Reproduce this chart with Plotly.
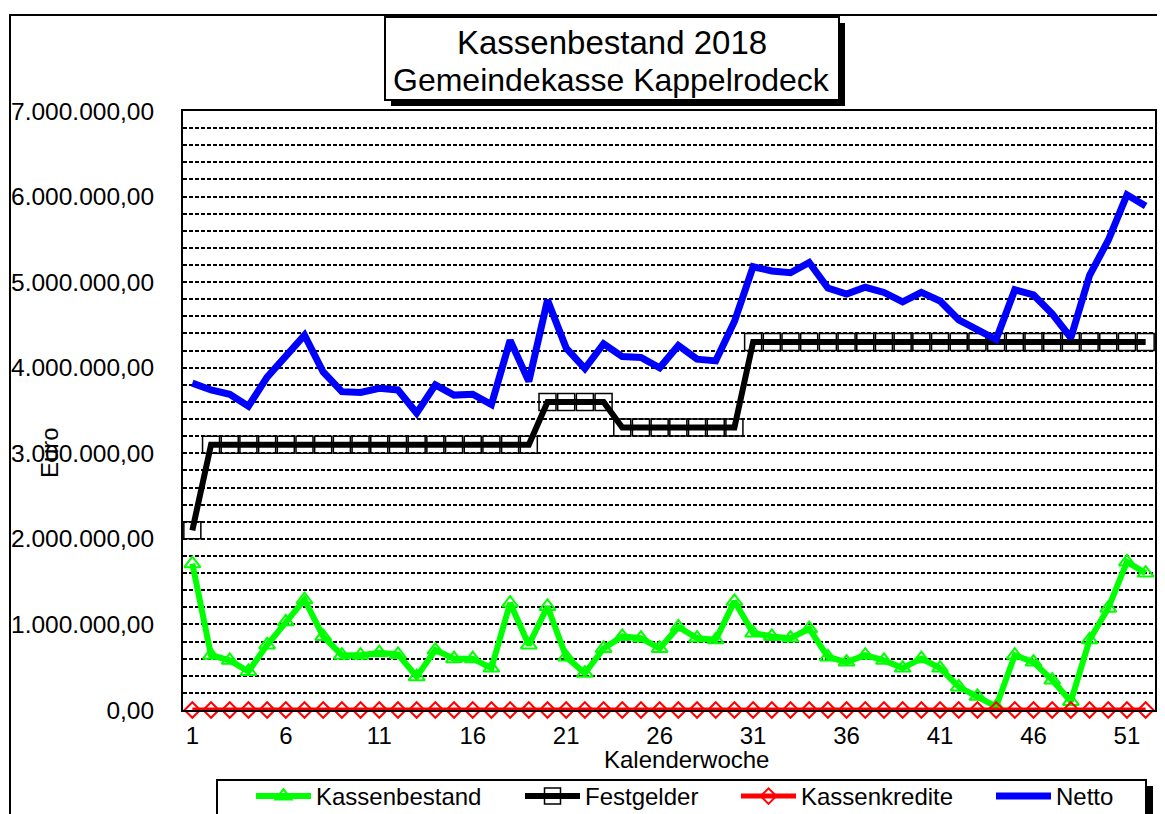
import plotly.graph_objects as go

weeks = list(range(1, 53))

kassenbestand = [
    1710000, 640000, 580000, 450000, 760000, 1030000, 1290000, 860000, 640000, 640000,
    670000, 650000, 390000, 700000, 600000, 600000, 490000, 1250000, 760000, 1210000,
    620000, 430000, 720000, 860000, 840000, 720000, 970000, 840000, 820000, 1270000,
    900000, 860000, 840000, 950000, 620000, 560000, 640000, 580000, 490000, 600000,
    490000, 270000, 160000, 40000, 640000, 560000, 350000, 100000, 820000, 1190000,
    1730000, 1600000,
]

festgelder = [
    2100000, 3100000, 3100000, 3100000, 3100000, 3100000, 3100000, 3100000, 3100000, 3100000,
    3100000, 3100000, 3100000, 3100000, 3100000, 3100000, 3100000, 3100000, 3100000, 3600000,
    3600000, 3600000, 3600000, 3300000, 3300000, 3300000, 3300000, 3300000, 3300000, 3300000,
    4300000, 4300000, 4300000, 4300000, 4300000, 4300000, 4300000, 4300000, 4300000, 4300000,
    4300000, 4300000, 4300000, 4300000, 4300000, 4300000, 4300000, 4300000, 4300000, 4300000,
    4300000, 4300000,
]

kassenkredite = [0] * 52

netto = [
    3820000, 3740000, 3690000, 3550000, 3890000, 4150000, 4380000, 3950000, 3720000, 3710000,
    3760000, 3740000, 3470000, 3800000, 3680000, 3690000, 3570000, 4320000, 3840000, 4790000,
    4230000, 3990000, 4280000, 4130000, 4120000, 4000000, 4260000, 4100000, 4080000, 4540000,
    5180000, 5130000, 5110000, 5230000, 4930000, 4860000, 4940000, 4880000, 4770000, 4880000,
    4780000, 4560000, 4450000, 4330000, 4910000, 4850000, 4630000, 4350000, 5080000, 5490000,
    6020000, 5890000,
]

x_tickvals = [1, 6, 11, 16, 21, 26, 31, 36, 41, 46, 51]

FONT = "Liberation Sans, Arial, sans-serif"

# page body margin offset (the page is drawn 8px in from the window corner)
OFF = 8
L, R, T, B = 183 - OFF, 1155 - OFF, 111 - OFF, 710 - OFF
W, H = 1165 - OFF, 814 - OFF
pw, ph = R - L, B - T


def px(x):
    return (x - OFF - L) / pw


def py(y):
    return (B - (y - OFF)) / ph


fig = go.Figure()
fig.add_trace(go.Scatter(
    x=weeks, y=kassenbestand, name="Kassenbestand", mode="lines+markers",
    line=dict(color="#00FF00", width=6),
    marker=dict(symbol="triangle-up-open", size=14, color="#00FF00", line=dict(width=2)),
    legend="legend",
))
fig.add_trace(go.Scatter(
    x=weeks, y=festgelder, name="Festgelder", mode="lines+markers",
    line=dict(color="#000000", width=6),
    marker=dict(symbol="square-open", size=17, color="#000000", line=dict(width=1.5)),
    legend="legend2",
))
fig.add_trace(go.Scatter(
    x=weeks, y=kassenkredite, name="Kassenkredite", mode="lines+markers",
    line=dict(color="#FF0000", width=5),
    marker=dict(symbol="diamond-open", size=12, color="#FF0000", line=dict(width=2)),
    cliponaxis=False, legend="legend3",
))
fig.add_trace(go.Scatter(
    x=weeks, y=netto, name="Netto", mode="lines",
    line=dict(color="#0000FF", width=7),
    legend="legend4",
))

shapes = [
    # outer border
    dict(type="rect", xref="paper", yref="paper", x0=px(10), x1=px(1175), y0=py(830), y1=py(15),
         line=dict(color="black", width=2), fillcolor="rgba(0,0,0,0)", layer="below"),
    # title shadow
    dict(type="rect", xref="paper", yref="paper", x0=px(391), x1=px(845), y0=py(106), y1=py(23),
         line=dict(color="black", width=0), fillcolor="black"),
    # title box
    dict(type="rect", xref="paper", yref="paper", x0=px(385), x1=px(839), y0=py(100), y1=py(17),
         line=dict(color="black", width=2), fillcolor="white"),
    # legend shadow
    dict(type="rect", xref="paper", yref="paper", x0=px(223), x1=px(1153), y0=py(830), y1=py(786),
         line=dict(color="black", width=0), fillcolor="black"),
    # legend box
    dict(type="rect", xref="paper", yref="paper", x0=px(217), x1=px(1146), y0=py(830), y1=py(780),
         line=dict(color="black", width=2), fillcolor="white"),
]

annotations = [
    dict(text="Kassenbestand 2018", xref="paper", yref="paper",
         x=px(612), y=py(42), showarrow=False, font=dict(family=FONT, size=33, color="black"),
         xanchor="center", yanchor="middle"),
    dict(text="Gemeindekasse Kappelrodeck", xref="paper", yref="paper",
         x=px(611), y=py(80), showarrow=False, font=dict(family=FONT, size=32, color="black"),
         xanchor="center", yanchor="middle"),
    dict(text="Euro", xref="paper", yref="paper", x=px(50), y=py(453), showarrow=False,
         textangle=-90, font=dict(family=FONT, size=24, color="black"),
         xanchor="center", yanchor="middle"),
    dict(text="Kalenderwoche", xref="paper", yref="paper", x=px(686), y=py(759), showarrow=False,
         font=dict(family=FONT, size=24, color="black"), xanchor="center", yanchor="middle"),
]


def leg(xpix):
    return dict(orientation="h", x=px(xpix), y=py(774), xanchor="left", yanchor="top",
                font=dict(family=FONT, size=24, color="black"), bgcolor="rgba(0,0,0,0)",
                itemwidth=55, borderwidth=0)


fig.update_layout(
    width=W, height=H,
    margin=dict(l=L, r=W - R, t=T, b=H - B, pad=0, autoexpand=False),
    paper_bgcolor="white", plot_bgcolor="white",
    separators=",.",
    font=dict(family=FONT, size=24, color="black"),
    showlegend=True,
    legend=leg(251),
    legend2=leg(520),
    legend3=leg(736),
    legend4=leg(991),
    shapes=shapes,
    annotations=annotations,
    xaxis=dict(range=[0.5, 52.5], tickmode="array", tickvals=x_tickvals,
               ticktext=[str(v) for v in x_tickvals], showgrid=False, zeroline=False,
               showline=True, linecolor="black", linewidth=2, mirror=True,
               ticks="", ticklabelstandoff=3, tickfont=dict(family=FONT, size=24, color="black")),
    yaxis=dict(range=[0, 7000000], tickmode="linear", tick0=0, dtick=1000000,
               tickformat=",.2f", showgrid=True, gridcolor="black", gridwidth=2,
               griddash="4px,2px", zeroline=False, showline=True, linecolor="black",
               linewidth=2, mirror=True, ticks="", ticklabelstandoff=22,
               tickfont=dict(family=FONT, size=24.5, color="black"),
               minor=dict(dtick=200000, tick0=0, showgrid=True, gridcolor="black",
                          gridwidth=2, griddash="4px,2px")),
)

fig.write_html("out.html")
